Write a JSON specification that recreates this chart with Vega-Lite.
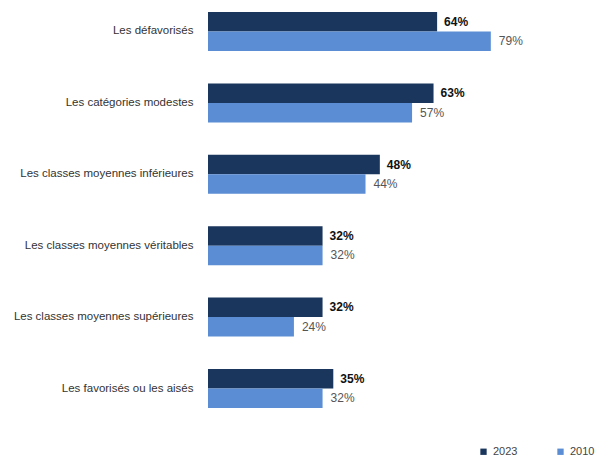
{
  "$schema": "https://vega.github.io/schema/vega-lite/v6.json",
  "width": 358,
  "height": 420,
  "autosize": {"type": "none"},
  "padding": {"left": 208, "top": 0, "right": 32, "bottom": 36},
  "config": {"view": {"stroke": null}, "font": "Liberation Sans"},
  "data": {
    "values": [
      {"cat": "Les défavorisés", "year": "2023", "value": 0.64},
      {"cat": "Les défavorisés", "year": "2010", "value": 0.79},
      {"cat": "Les catégories modestes", "year": "2023", "value": 0.63},
      {"cat": "Les catégories modestes", "year": "2010", "value": 0.57},
      {"cat": "Les classes moyennes inférieures", "year": "2023", "value": 0.48},
      {"cat": "Les classes moyennes inférieures", "year": "2010", "value": 0.44},
      {"cat": "Les classes moyennes véritables", "year": "2023", "value": 0.32},
      {"cat": "Les classes moyennes véritables", "year": "2010", "value": 0.32},
      {"cat": "Les classes moyennes supérieures", "year": "2023", "value": 0.32},
      {"cat": "Les classes moyennes supérieures", "year": "2010", "value": 0.24},
      {"cat": "Les favorisés ou les aisés", "year": "2023", "value": 0.35},
      {"cat": "Les favorisés ou les aisés", "year": "2010", "value": 0.32}
    ]
  },
  "encoding": {
    "y": {
      "field": "cat", "type": "nominal", "sort": null,
      "scale": {"paddingInner": 0.454, "paddingOuter": 0.168},
      "axis": {"title": null, "domain": false, "ticks": false, "labelPadding": 15, "labelFontSize": 11.5, "labelLimit": 260, "labelColor": "#333333"}
    },
    "yOffset": {"field": "year", "type": "nominal", "sort": ["2023", "2010"], "scale": {"paddingInner": 0}},
    "x": {"field": "value", "type": "quantitative", "scale": {"domain": [0, 1]}, "axis": null}
  },
  "layer": [
    {
      "mark": {"type": "bar"},
      "encoding": {
        "color": {
          "field": "year", "type": "nominal",
          "scale": {"domain": ["2023", "2010"], "range": ["#1b365d", "#5a8dd3"]},
          "legend": {
            "orient": "none", "legendX": 270, "legendY": 446, "direction": "horizontal",
            "title": null, "symbolType": "square", "symbolSize": 40, "labelFontSize": 11,
            "labelColor": "#444444", "columnPadding": 37, "symbolStrokeWidth": 0
          }
        }
      }
    },
    {
      "transform": [{"filter": "datum.year == '2023'"}],
      "mark": {"type": "text", "align": "left", "dx": 7, "fontWeight": "bold", "fontSize": 12, "color": "#111111"},
      "encoding": {"text": {"field": "value", "type": "quantitative", "format": ".0%"}}
    },
    {
      "transform": [{"filter": "datum.year == '2010'"}],
      "mark": {"type": "text", "align": "left", "dx": 8, "fontSize": 12, "color": "#555555"},
      "encoding": {"text": {"field": "value", "type": "quantitative", "format": ".0%"}}
    }
  ]
}
